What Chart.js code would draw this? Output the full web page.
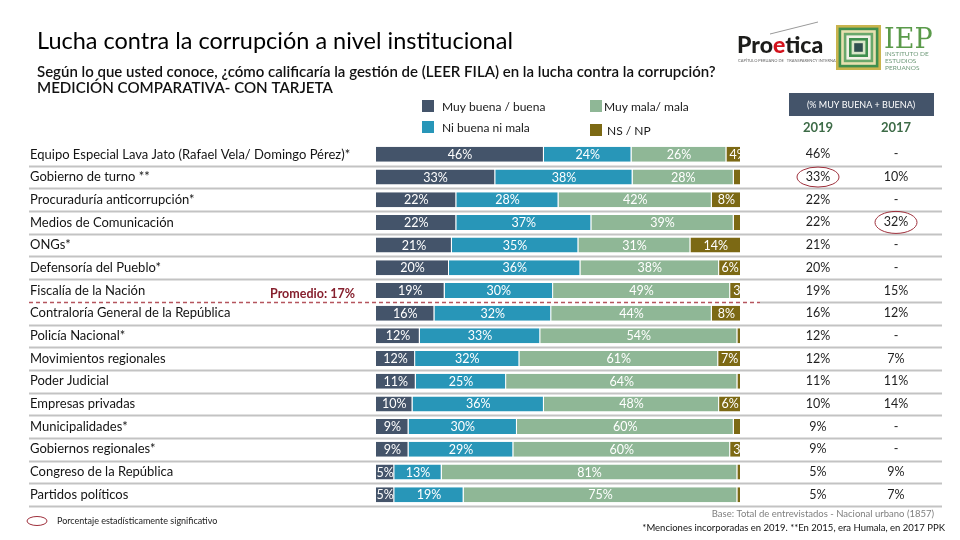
<!DOCTYPE html>
<html lang="es">
<head>
<meta charset="utf-8">
<title>Lucha contra la corrupción a nivel institucional</title>
<script src="https://cdn.jsdelivr.net/npm/chart.js@4.4.1/dist/chart.umd.min.js"></script>
<style>
  html, body { margin: 0; padding: 0; background: #fff; }
  #chart { display: block; }
</style>
</head>
<body>
<canvas id="chart" width="960" height="540"></canvas>
<script>
const categories = [
    'Equipo Especial Lava Jato (Rafael Vela/ Domingo Pérez)*',
    'Gobierno de turno **',
    'Procuraduría anticorrupción*',
    'Medios de Comunicación',
    'ONGs*',
    'Defensoría del Pueblo*',
    'Fiscalía de la Nación',
    'Contraloría General de la República',
    'Policía Nacional*',
    'Movimientos regionales',
    'Poder Judicial',
    'Empresas privadas',
    'Municipalidades*',
    'Gobiernos regionales*',
    'Congreso de la República',
    'Partidos políticos'
];

const muyBuena = [46, 33, 22, 22, 21, 20, 19, 16, 12, 12, 11, 10, 9, 9, 5, 5];
const niBuena  = [24, 38, 28, 37, 35, 36, 30, 32, 33, 32, 25, 36, 30, 29, 13, 19];
const muyMala  = [26, 28, 42, 39, 31, 38, 49, 44, 54, 61, 64, 48, 60, 60, 81, 75];
const nsNp     = [4, 2, 8, 2, 14, 6, 3, 8, 1, 7, 1, 6, 2, 3, 1, 1];

// right-hand table (% muy buena + buena)
const table2019 = [46, 33, 22, 22, 21, 20, 19, 16, 12, 12, 11, 10, 9, 9, 5, 5];
const table2017 = [null, 10, null, 32, null, null, 15, 12, null, 7, 11, 14, null, null, 9, 7];
const circled2019 = [1];
const circled2017 = [3];

const promedioLabel = 'Promedio: 17%';
const promedioAfterRow = 6;

const seriesNames = ['Muy buena / buena', 'Ni buena ni mala', 'Muy mala/ mala', 'NS / NP'];
const seriesColors = ['#44546a', '#2896b8', '#8fb796', '#7c6914'];
const seriesRaw = [muyBuena, niBuena, muyMala, nsNp];

const FONT = 'Lato, "Open Sans", sans-serif';
const RED = '#9e2f3b';

// 100% stacked rows, like the original
const rowTotal = categories.map((c, i) => muyBuena[i] + niBuena[i] + muyMala[i] + nsNp[i]);
const asShare = arr => arr.map((v, i) => v / rowTotal[i] * 100);

function fitText(ctx, text, x, y, width, weight, color) {
    ctx.font = weight + ' 20px ' + FONT;
    const size = 20 * width / ctx.measureText(text).width;
    ctx.font = weight + ' ' + size.toFixed(2) + 'px ' + FONT;
    ctx.fillStyle = color;
    ctx.fillText(text, x, y);
}

const decor = {
    id: 'decor',
    beforeDatasetsDraw(chart) {
        const { ctx, chartArea } = chart;
        const band = (chartArea.bottom - chartArea.top) / categories.length;
        ctx.save();
        ctx.lineWidth = 2;
        ctx.strokeStyle = '#c3c3c3';
        for (let i = 0; i < categories.length; i++) {
            const yy = Math.round(chartArea.top + band * (i + 1)) + 0.5;
            ctx.beginPath();
            ctx.moveTo(i === promedioAfterRow ? 760 : 29, yy);
            ctx.lineTo(942, yy);
            ctx.stroke();
        }
        ctx.restore();
    },
    afterDatasetsDraw(chart) {
        const { ctx, chartArea, scales } = chart;
        const band = (chartArea.bottom - chartArea.top) / categories.length;

        // values inside the bars
        ctx.save();
        ctx.font = '12.5px ' + FONT;
        ctx.fillStyle = '#fff';
        ctx.textBaseline = 'middle';
        chart.data.datasets.forEach((ds, d) => {
            chart.getDatasetMeta(d).data.forEach((bar, i) => {
                const v = seriesRaw[d][i];
                if (v < 3) return;
                const w = bar.x - bar.base;
                if (d === 3 && w < 20) {
                    // narrow NS segment: text cut off by the bar end
                    ctx.save();
                    ctx.beginPath();
                    ctx.rect(bar.base, bar.y - 8, w, 16);
                    ctx.clip();
                    ctx.textAlign = 'left';
                    ctx.fillText(v + '%', bar.base + 3, bar.y + 0.5);
                    ctx.restore();
                } else {
                    ctx.textAlign = 'center';
                    ctx.fillText(v + '%', (bar.x + bar.base) / 2, bar.y + 0.5);
                }
            });
        });
        ctx.restore();

        // promedio line
        const ly = Math.round(chartArea.top + band * (promedioAfterRow + 1)) + 0.5;
        ctx.save();
        ctx.strokeStyle = '#b5555e';
        ctx.lineWidth = 1.3;
        ctx.setLineDash([4, 3]);
        ctx.beginPath();
        ctx.moveTo(29, ly);
        ctx.lineTo(760, ly);
        ctx.stroke();
        ctx.restore();
        ctx.save();
        ctx.font = 'bold 12.5px ' + FONT;
        ctx.fillStyle = '#86202e';
        ctx.textBaseline = 'middle';
        ctx.fillText(promedioLabel, 270, ly - 9);
        ctx.restore();

        // table
        ctx.save();
        ctx.textAlign = 'center';
        ctx.textBaseline = 'middle';
        ctx.font = '12.5px ' + FONT;
        ctx.fillStyle = '#1e1e1e';
        categories.forEach((c, i) => {
            const yy = scales.y.getPixelForValue(i);
            ctx.fillText(table2019[i] + '%', 818, yy);
            ctx.fillText(table2017[i] === null ? '-' : table2017[i] + '%', 896, yy);
        });
        ctx.strokeStyle = RED;
        ctx.lineWidth = 1;
        circled2019.forEach(i => {
            ctx.beginPath();
            ctx.ellipse(818, scales.y.getPixelForValue(i), 21, 10, 0, 0, Math.PI * 2);
            ctx.stroke();
        });
        circled2017.forEach(i => {
            ctx.beginPath();
            ctx.ellipse(896, scales.y.getPixelForValue(i), 21, 11, 0, 0, Math.PI * 2);
            ctx.stroke();
        });
        ctx.restore();
    },
    afterDraw(chart) {
        const ctx = chart.ctx;
        ctx.save();
        ctx.textBaseline = 'alphabetic';
        ctx.textAlign = 'left';

        // titles
        fitText(ctx, 'Lucha contra la corrupción a nivel institucional', 37, 49, 476, 'normal', '#000');
        fitText(ctx, 'Según lo que usted conoce, ¿cómo calificaría la gestión de (LEER FILA) en la lucha contra la corrupción?', 37, 77, 679, '600', '#111');
        fitText(ctx, 'MEDICIÓN COMPARATIVA- CON TARJETA', 37, 93, 296, '600', '#111');

        // legend
        const legendPos = [[422, 100], [422, 121], [590, 100], [590, 124]];
        seriesNames.forEach((name, i) => {
            const [lx, ly] = legendPos[i];
            ctx.fillStyle = seriesColors[i];
            ctx.fillRect(lx, ly, 12, 12);
            ctx.fillStyle = '#1a1a1a';
            ctx.font = '12px ' + FONT;
            ctx.fillText(name, lx + (i < 2 ? 20 : 14 + (i === 3 ? 3 : 0)), ly + 11);
        });

        // table header
        ctx.fillStyle = '#44546a';
        ctx.fillRect(789, 93, 145, 23);
        ctx.fillStyle = '#fff';
        ctx.textAlign = 'center';
        ctx.font = '9px ' + FONT;
        ctx.fillText('(% MUY BUENA + BUENA)', 861, 108);
        ctx.fillStyle = '#3d6b47';
        ctx.font = 'bold 13px ' + FONT;
        ctx.fillText('2019', 818, 132);
        ctx.fillText('2017', 896, 132);

        // footer
        ctx.textAlign = 'right';
        ctx.font = '9.5px ' + FONT;
        ctx.fillStyle = '#7f7f7f';
        ctx.fillText('Base: Total de entrevistados - Nacional urbano (1857)', 934, 517);
        ctx.fillStyle = '#111';
        ctx.fillText('*Menciones incorporadas en 2019. **En 2015, era Humala, en 2017 PPK', 945, 531);
        ctx.textAlign = 'left';
        ctx.strokeStyle = RED;
        ctx.lineWidth = 1;
        ctx.beginPath();
        ctx.ellipse(37, 521, 10, 4.5, 0, 0, Math.PI * 2);
        ctx.stroke();
        ctx.fillStyle = '#1a1a1a';
        ctx.font = '9px ' + FONT;
        ctx.fillText('Porcentaje estadísticamente significativo', 57, 524);

        // Proetica logo
        ctx.strokeStyle = '#9a9a9a';
        ctx.lineWidth = 1;
        ctx.beginPath();
        ctx.moveTo(770, 34);
        ctx.lineTo(818, 22);
        ctx.stroke();
        ctx.font = '900 23px ' + FONT;
        ctx.fillStyle = '#1d1d1b';
        ctx.fillText('Pro', 737, 53);
        let px = 737 + ctx.measureText('Pro').width;
        ctx.fillStyle = '#d3121c';
        ctx.fillText('e', px, 53);
        px += ctx.measureText('e').width;
        ctx.fillStyle = '#1d1d1b';
        ctx.fillText('tica', px, 53);
        ctx.font = '4px ' + FONT;
        ctx.fillStyle = '#666';
        ctx.fillText('CAPÍTULO PERUANO DE   TRANSPARENCY INTERNATIONAL', 738, 62);

        // IEP logo
        const rings = ['#c9b44e', '#3f8f4e', '#e8e0b0', '#6aa86b', '#f2f2e6', '#3f8f4e', '#d8e6c8', '#2f4f4f'];
        rings.forEach((col, k) => {
            ctx.fillStyle = col;
            ctx.fillRect(836 + k * 2.6, 25 + k * 2.6, 45 - k * 5.2, 45 - k * 5.2);
        });
        ctx.fillStyle = '#5a9a4a';
        ctx.font = '27px "DejaVu Serif", serif';
        ctx.fillText('IEP', 884, 48);
        ctx.font = '6.5px ' + FONT;
        ctx.fillStyle = '#6f9a7a';
        ctx.fillText('INSTITUTO DE', 885, 56);
        ctx.fillText('ESTUDIOS', 885, 63);
        ctx.fillText('PERUANOS', 885, 70);
        ctx.restore();
    }
};

new Chart(document.getElementById('chart'), {
    type: 'bar',
    data: {
        labels: categories,
        datasets: seriesRaw.map((arr, d) => ({
            label: seriesNames[d],
            data: asShare(arr),
            backgroundColor: seriesColors[d],
            borderColor: '#ffffff',
            borderWidth: { right: 1, left: 0, top: 0, bottom: 0 },
            borderSkipped: false,
            barPercentage: 1,
            categoryPercentage: 0.66
        }))
    },
    options: {
        responsive: false,
        animation: false,
        indexAxis: 'y',
        layout: { padding: { left: 30, right: 219, top: 143, bottom: 34 } },
        plugins: {
            legend: { display: false },
            tooltip: { enabled: false }
        },
        scales: {
            x: { stacked: true, min: 0, max: 100, display: false },
            y: {
                stacked: true,
                grid: { display: false },
                border: { display: false },
                afterFit: s => { s.width = 346; },
                ticks: {
                    crossAlign: 'far',
                    padding: 0,
                    color: '#141414',
                    font: { family: FONT, size: 13 }
                }
            }
        }
    },
    plugins: [decor]
});
</script>
</body>
</html>
